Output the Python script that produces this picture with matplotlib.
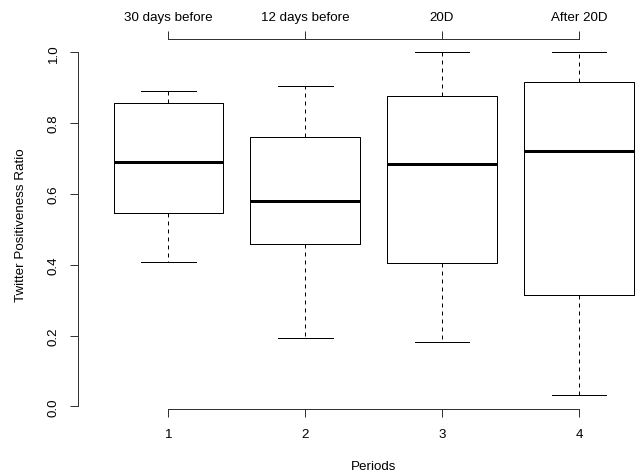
import matplotlib
matplotlib.use("Agg")
import matplotlib.pyplot as plt

plt.rcParams["font.family"] = ["Liberation Sans", "DejaVu Sans"]

# values
periods = [1, 2, 3, 4]
period_names = ["30 days before", "12 days before", "20D", "After 20D"]
whisker_low = [0.407, 0.194, 0.181, 0.032]
q1 = [0.546, 0.459, 0.404, 0.315]
medians = [0.691, 0.581, 0.685, 0.722]
q3 = [0.856, 0.760, 0.877, 0.917]
whisker_high = [0.890, 0.905, 1.000, 1.000]
y_ticks = [0.0, 0.2, 0.4, 0.6, 0.8, 1.0]

PX = 0.72  # one pixel in points at dpi 100
FS = 9.6
AXC = "#333333"

stats = []
for i in range(len(periods)):
    stats.append({
        "whislo": whisker_low[i], "q1": q1[i], "med": medians[i],
        "q3": q3[i], "whishi": whisker_high[i], "fliers": [],
    })

fig = plt.figure(figsize=(6.44, 4.77), dpi=100)
W, H = 644, 477
left, right, top, bottom = 77.7, 669.5, 40, 410
ax = fig.add_axes([left / W, 1 - bottom / H, (right - left) / W, (bottom - top) / H])

line = dict(color="black", linewidth=PX)
ax.bxp(
    stats, positions=periods, widths=0.8, capwidths=0.4,
    boxprops=line, capprops=line,
    whiskerprops=dict(color="black", linewidth=PX, linestyle=(0, (4, 4))),
    medianprops=dict(color="black", linewidth=3 * PX, solid_capstyle="butt"),
    showfliers=False, manage_ticks=False,
)

ax.set_xlim(0.338, 4.662)
ax.set_ylim(-0.0076, 1.0376)

ax.spines["right"].set_visible(False)
ax.spines["top"].set_visible(False)
ax.spines["left"].set_bounds(0, 1)
ax.spines["bottom"].set_bounds(1, 4)
for s in ["left", "bottom"]:
    ax.spines[s].set_linewidth(PX)
    ax.spines[s].set_color(AXC)

ax.set_xticks(periods, [str(p) for p in periods])
ax.set_yticks(y_ticks, ["%.1f" % t for t in y_ticks])
ax.tick_params(axis="x", length=8 * PX, width=PX, pad=8, labelsize=FS, color=AXC)
ax.tick_params(axis="y", length=8 * PX, width=PX, pad=7, labelsize=FS, color=AXC)
for lab in ax.get_yticklabels():
    lab.set_rotation(90)
    lab.set_va("center")

secax = ax.secondary_xaxis("top")
secax.set_xticks(periods, period_names)
secax.spines["top"].set_bounds(1, 4)
secax.spines["top"].set_linewidth(PX)
secax.spines["top"].set_color(AXC)
secax.tick_params(axis="x", length=8 * PX, width=PX, pad=6, labelsize=FS, color=AXC)

ax.set_xlabel("Periods", fontsize=FS)
ax.set_ylabel("Twitter Positiveness Ratio", fontsize=FS)
ax.xaxis.set_label_coords((373.6 - left) / (right - left), -(467 - bottom) / (bottom - top))
ax.xaxis.label.set_va("center")
ax.yaxis.set_label_coords((21 - left) / (right - left), 0.5)
ax.yaxis.label.set_va("center")

fig.savefig("out.png", dpi=100)
